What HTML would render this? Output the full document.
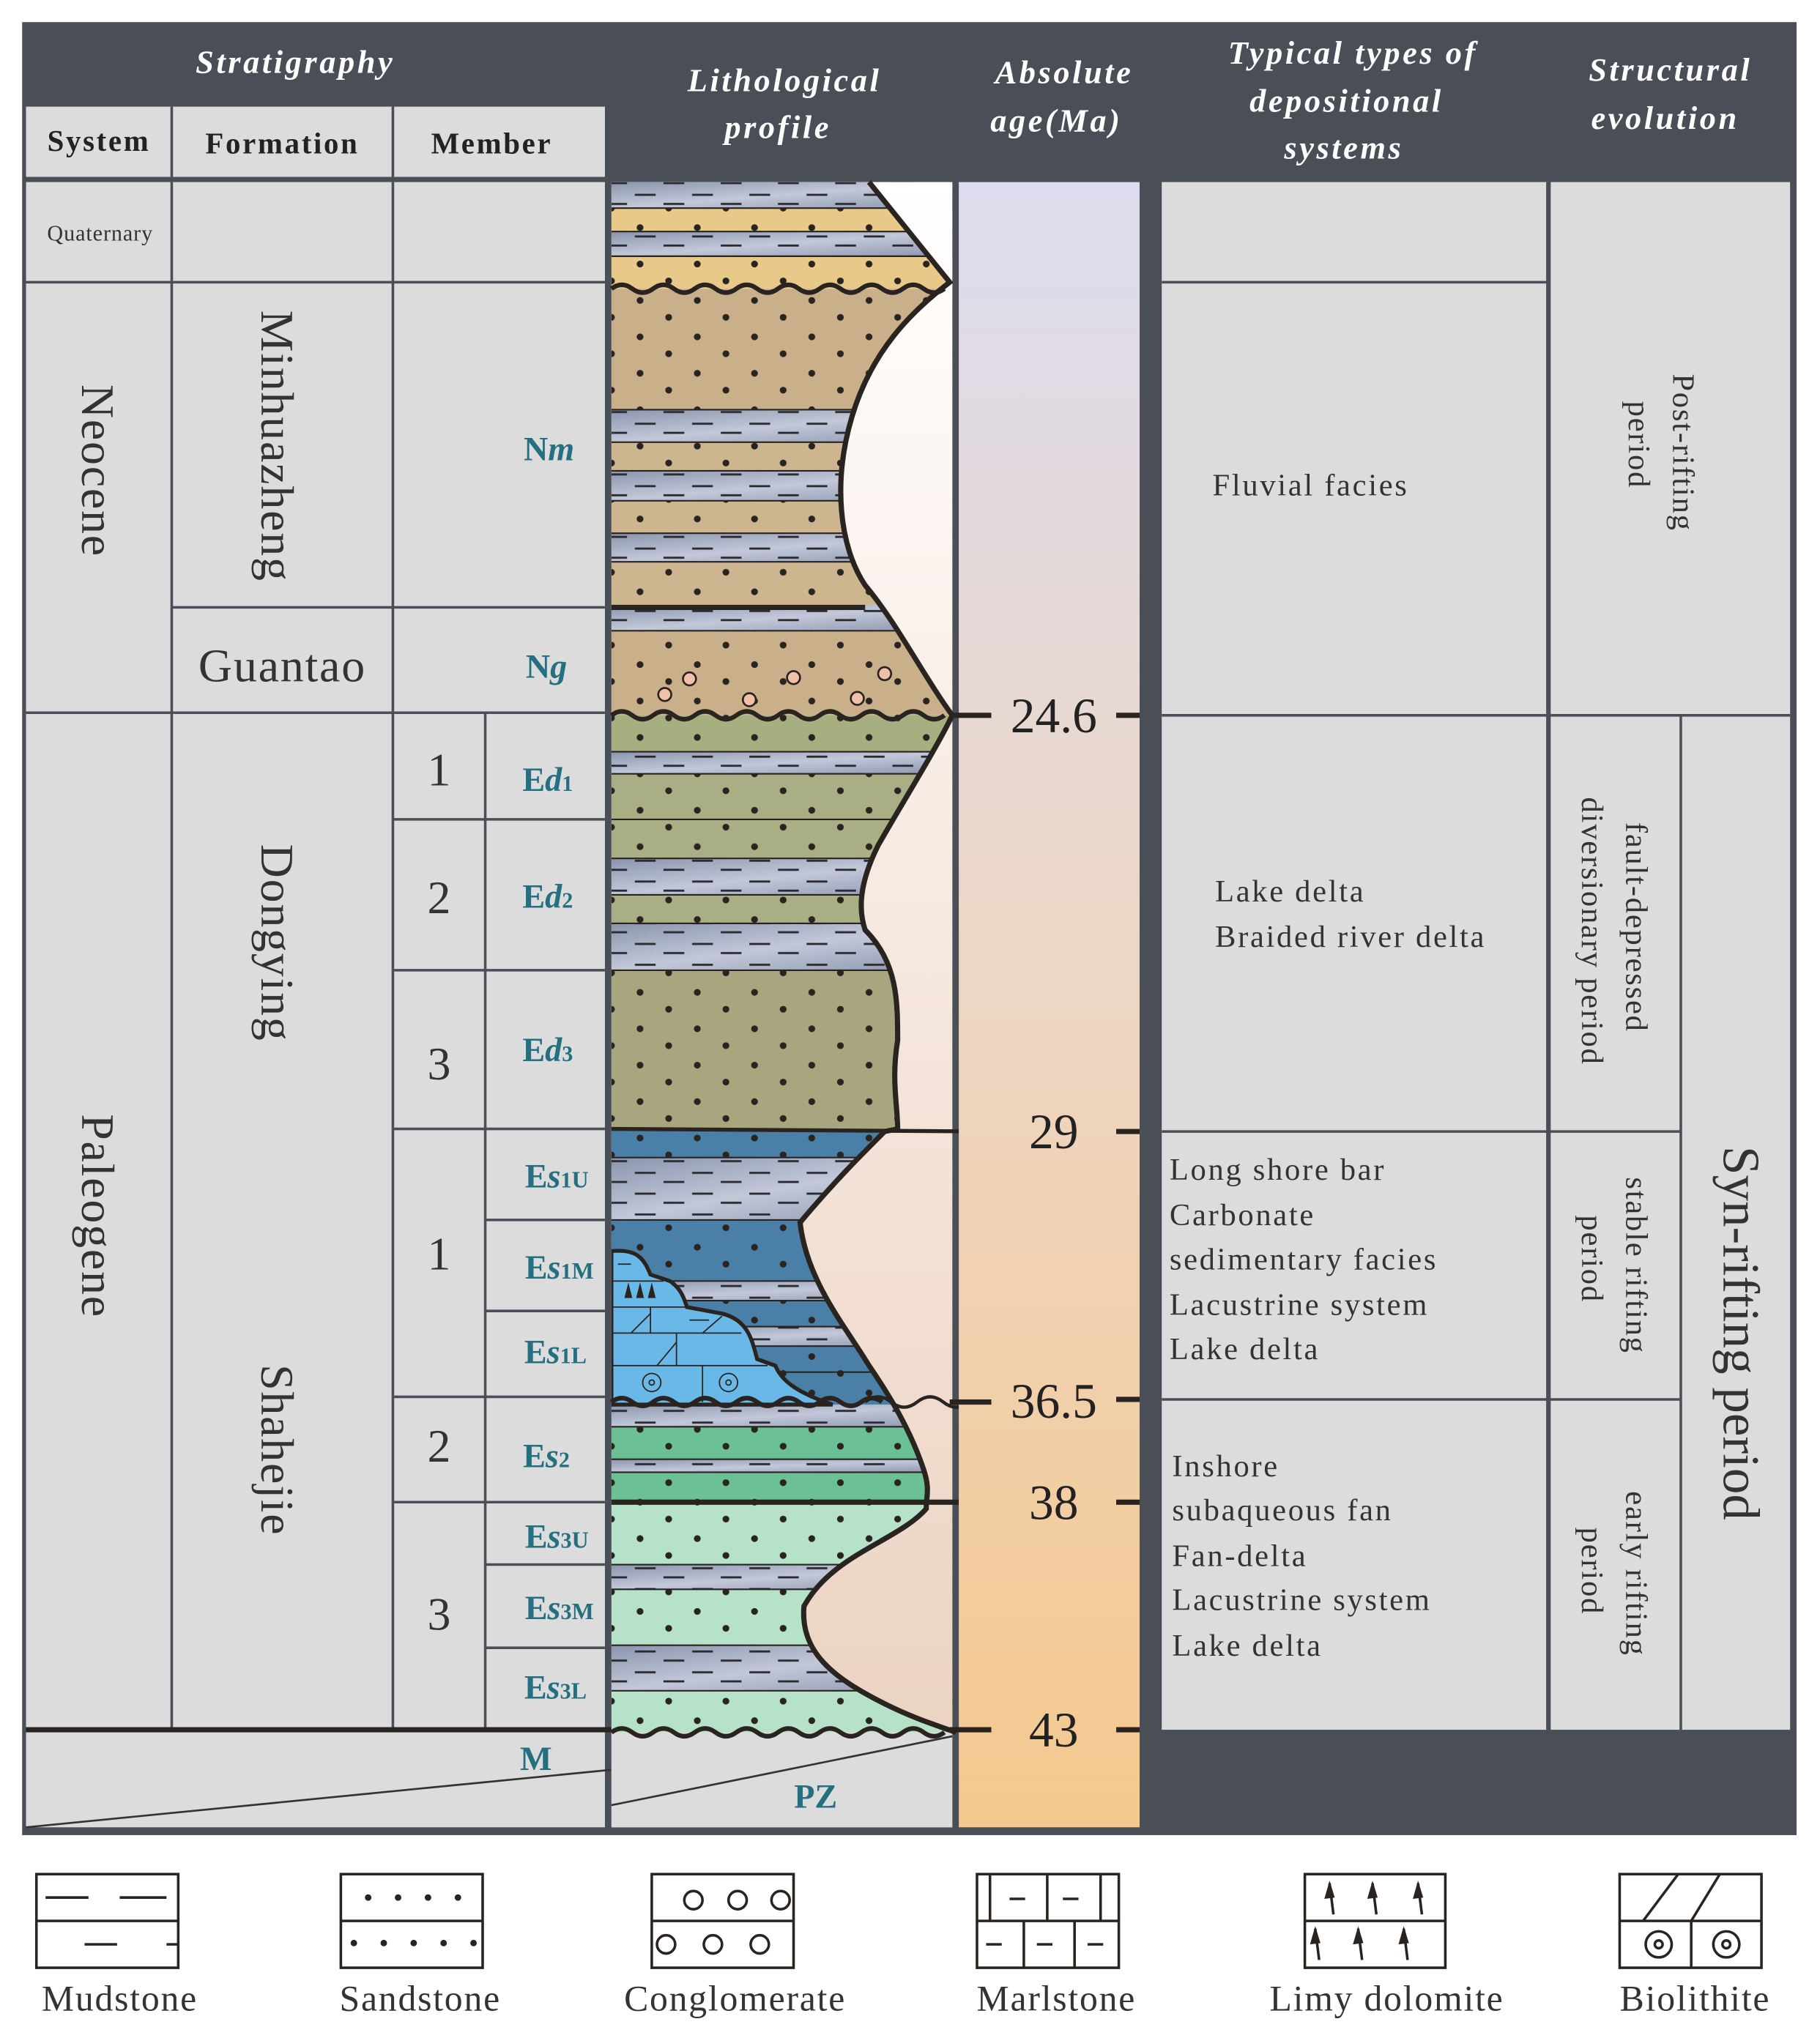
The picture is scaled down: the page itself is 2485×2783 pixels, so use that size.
<!DOCTYPE html>
<html><head><meta charset="utf-8"><style>
html,body{margin:0;padding:0;background:#fff;}
svg{display:block;}
text{font-family:"Liberation Serif",serif;}
.h{fill:#fff;font-style:italic;font-weight:bold;font-size:25px;letter-spacing:2px;text-anchor:middle;}
.sh{fill:#222;font-weight:bold;font-size:23px;letter-spacing:1.5px;text-anchor:middle;}
.big{fill:#333;font-size:36px;text-anchor:middle;letter-spacing:1px;}
.mem{fill:#246f80;font-weight:bold;font-size:26px;text-anchor:middle;}
.dep{fill:#333;font-size:24px;letter-spacing:1.5px;}
.st{fill:#333;font-size:24px;letter-spacing:1px;text-anchor:middle;}
.age{fill:#222;font-size:38px;text-anchor:middle;}
.leg{fill:#333;font-size:28px;text-anchor:middle;letter-spacing:1px;}
</style></head><body>
<svg width="2485" height="2783" viewBox="0 0 1399 1567" preserveAspectRatio="none" xmlns="http://www.w3.org/2000/svg">
<defs>
<pattern id="dots" patternUnits="userSpaceOnUse" width="44" height="28"><circle cx="8" cy="7" r="2.6" fill="#2a2420"/><circle cx="30" cy="20" r="2.6" fill="#2a2420"/></pattern>
<pattern id="dash" patternUnits="userSpaceOnUse" width="44" height="16"><rect x="4" y="5" width="16" height="1.6" fill="#2a2a30"/><rect x="26" y="12" width="16" height="1.6" fill="#2a2a30"/></pattern>
<linearGradient id="mud" x1="0" y1="0" x2="1" y2="1"><stop offset="0" stop-color="#8a95ae"/><stop offset="0.5" stop-color="#c2c8d8"/><stop offset="1" stop-color="#8a95ae"/></linearGradient>
<linearGradient id="ageg" x1="0" y1="0" x2="0" y2="1"><stop offset="0" stop-color="#dcdcee"/><stop offset="0.45" stop-color="#ecd7c8"/><stop offset="1" stop-color="#f5c88e"/></linearGradient>
<linearGradient id="bg" x1="0" y1="0" x2="0" y2="1"><stop offset="0" stop-color="#ffffff"/><stop offset="0.4" stop-color="#f8ece4"/><stop offset="1" stop-color="#ecd3c2"/></linearGradient>
<clipPath id="pc"><rect x="470" y="140" width="262" height="1192"/></clipPath>
</defs>
<rect width="1399" height="1567" fill="#fff"/>
<rect x="17" y="17" width="1364" height="1394" fill="#4a4f57"/>
<rect x="20" y="82" width="445" height="54" fill="#dcdcdc"/>
<line x1="132" y1="82" x2="132" y2="136" stroke="#4a4f57" stroke-width="2"/>
<line x1="302" y1="82" x2="302" y2="136" stroke="#4a4f57" stroke-width="2"/>
<text class="h" x="227" y="56">Stratigraphy</text>
<text class="sh" x="76" y="116">System</text>
<text class="sh" x="217" y="118">Formation</text>
<text class="sh" x="378" y="118">Member</text>
<text class="h" x="603" y="70">Lithological</text><text class="h" x="598" y="106">profile</text>
<text class="h" x="818" y="64">Absolute</text><text class="h" x="812" y="101">age(Ma)</text>
<text class="h" x="1040" y="49">Typical types of</text><text class="h" x="1035" y="86">depositional</text><text class="h" x="1033" y="122">systems</text>
<text class="h" x="1284" y="62">Structural</text><text class="h" x="1280" y="99">evolution</text>
<rect x="20" y="140" width="445" height="1265" fill="#dcdcdc"/>
<g stroke="#4a4f57" stroke-width="2" fill="none">
<line x1="132" y1="140" x2="132" y2="1330"/>
<line x1="302" y1="140" x2="302" y2="1330"/>
<line x1="373" y1="548" x2="373" y2="1330"/>
<line x1="20" y1="217" x2="465" y2="217"/>
<line x1="20" y1="548" x2="465" y2="548"/>
<line x1="132" y1="467" x2="465" y2="467"/>
<line x1="302" y1="630" x2="465" y2="630"/>
<line x1="302" y1="746" x2="465" y2="746"/>
<line x1="302" y1="868" x2="465" y2="868"/>
<line x1="373" y1="938" x2="465" y2="938"/>
<line x1="373" y1="1008" x2="465" y2="1008"/>
<line x1="302" y1="1074" x2="465" y2="1074"/>
<line x1="302" y1="1155" x2="465" y2="1155"/>
<line x1="373" y1="1203" x2="465" y2="1203"/>
<line x1="373" y1="1267" x2="465" y2="1267"/>
<line x1="20" y1="1405" x2="732" y2="1335" stroke="#333" stroke-width="1.5"/>
</g>
<line x1="20" y1="1330" x2="470" y2="1330" stroke="#2a2420" stroke-width="4"/>
<text x="77" y="185" fill="#333" font-size="17" text-anchor="middle" letter-spacing="0.5">Quaternary</text>
<text class="big" transform="translate(63,362) rotate(90)">Neocene</text>
<text class="big" transform="translate(63,935) rotate(90)">Paleogene</text>
<text class="big" transform="translate(201,343) rotate(90)">Minhuazheng</text>
<text class="big" x="217" y="524">Guantao</text>
<text class="big" transform="translate(201,725) rotate(90)">Dongying</text>
<text class="big" transform="translate(201,1115) rotate(90)">Shahejie</text>
<text class="big" x="338" y="604">1</text><text class="big" x="338" y="702">2</text><text class="big" x="338" y="830">3</text>
<text class="big" x="338" y="976">1</text><text class="big" x="338" y="1124">2</text><text class="big" x="338" y="1253">3</text>
<text class="mem" x="422" y="354">N<tspan font-style="italic">m</tspan></text>
<text class="mem" x="420" y="521">N<tspan font-style="italic">g</tspan></text>
<text class="mem" x="421" y="608">E<tspan font-style="italic">d</tspan><tspan font-size="17">1</tspan></text>
<text class="mem" x="421" y="698">E<tspan font-style="italic">d</tspan><tspan font-size="17">2</tspan></text>
<text class="mem" x="421" y="816">E<tspan font-style="italic">d</tspan><tspan font-size="17">3</tspan></text>
<text class="mem" x="428" y="913">E<tspan font-style="italic">s</tspan><tspan font-size="17">1</tspan><tspan font-size="18">U</tspan></text>
<text class="mem" x="430" y="983">E<tspan font-style="italic">s</tspan><tspan font-size="17">1</tspan><tspan font-size="18">M</tspan></text>
<text class="mem" x="427" y="1048">E<tspan font-style="italic">s</tspan><tspan font-size="17">1</tspan><tspan font-size="18">L</tspan></text>
<text class="mem" x="420" y="1128">E<tspan font-style="italic">s</tspan><tspan font-size="17">2</tspan></text>
<text class="mem" x="428" y="1190">E<tspan font-style="italic">s</tspan><tspan font-size="17">3</tspan><tspan font-size="18">U</tspan></text>
<text class="mem" x="430" y="1245">E<tspan font-style="italic">s</tspan><tspan font-size="17">3</tspan><tspan font-size="18">M</tspan></text>
<text class="mem" x="427" y="1306">E<tspan font-style="italic">s</tspan><tspan font-size="17">3</tspan><tspan font-size="18">L</tspan></text>
<text class="mem" x="412" y="1361">M</text>
<rect x="470" y="140" width="262" height="1265" fill="url(#bg)"/>
<rect x="470" y="1332" width="262" height="73" fill="#dcdcdc"/>
<line x1="470" y1="1388" x2="732" y2="1335" stroke="#333" stroke-width="1.5"/>
<text class="mem" x="627" y="1390">PZ</text>
<g clip-path="url(#pc)">
<g fill="url(#mud)">
<rect x="470" y="140" width="262" height="20"/><rect x="470" y="178" width="262" height="19"/>
<rect x="470" y="315" width="262" height="25"/><rect x="470" y="362" width="262" height="23"/><rect x="470" y="410" width="262" height="22"/><rect x="470" y="465" width="262" height="20"/>
<rect x="470" y="578" width="262" height="17"/><rect x="470" y="660" width="262" height="28"/><rect x="470" y="710" width="262" height="36"/>
<rect x="470" y="890" width="262" height="48"/><rect x="470" y="985" width="262" height="15"/><rect x="470" y="1020" width="262" height="15"/>
<rect x="470" y="1080" width="262" height="17"/><rect x="470" y="1122" width="262" height="10"/><rect x="470" y="1203" width="262" height="19"/><rect x="470" y="1265" width="262" height="35"/>
</g>
<g fill="url(#dash)">
<rect x="470" y="140" width="262" height="20"/><rect x="470" y="178" width="262" height="19"/>
<rect x="470" y="315" width="262" height="25"/><rect x="470" y="362" width="262" height="23"/><rect x="470" y="410" width="262" height="22"/><rect x="470" y="465" width="262" height="20"/>
<rect x="470" y="578" width="262" height="17"/><rect x="470" y="660" width="262" height="28"/><rect x="470" y="710" width="262" height="36"/>
<rect x="470" y="890" width="262" height="48"/><rect x="470" y="985" width="262" height="15"/><rect x="470" y="1020" width="262" height="15"/>
<rect x="470" y="1080" width="262" height="17"/><rect x="470" y="1122" width="262" height="10"/><rect x="470" y="1203" width="262" height="19"/><rect x="470" y="1265" width="262" height="35"/>
</g>
<rect x="470" y="160" width="262" height="18" fill="#e8c98a"/><rect x="470" y="197" width="262" height="25" fill="#e8c98a"/>
<rect x="470" y="222" width="262" height="93" fill="#c9b08a"/><rect x="470" y="340" width="262" height="22" fill="#cdb590"/><rect x="470" y="385" width="262" height="25" fill="#cdb590"/><rect x="470" y="432" width="262" height="33" fill="#cdb590"/>
<rect x="470" y="485" width="262" height="65" fill="#c9b08a"/>
<rect x="470" y="550" width="262" height="28" fill="#a7af80"/><rect x="470" y="595" width="262" height="65" fill="#aaae84"/><rect x="470" y="688" width="262" height="22" fill="#aaae84"/>
<rect x="470" y="746" width="262" height="122" fill="#a8a67e"/>
<rect x="470" y="868" width="262" height="22" fill="#4a80a8"/><rect x="470" y="938" width="262" height="47" fill="#4a80a8"/><rect x="470" y="1000" width="262" height="20" fill="#4a80a8"/><rect x="470" y="1035" width="262" height="45" fill="#4a80a8"/>
<rect x="470" y="1097" width="262" height="25" fill="#6cc096"/><rect x="470" y="1132" width="262" height="23" fill="#6cc096"/>
<rect x="470" y="1155" width="262" height="48" fill="#b7e2ca"/><rect x="470" y="1222" width="262" height="43" fill="#b7e2ca"/><rect x="470" y="1300" width="262" height="32" fill="#b7e2ca"/>
<g fill="url(#dots)">
<rect x="470" y="160" width="262" height="18"/><rect x="470" y="197" width="262" height="25"/><rect x="470" y="222" width="262" height="93"/><rect x="470" y="340" width="262" height="22"/><rect x="470" y="385" width="262" height="25"/><rect x="470" y="432" width="262" height="33"/><rect x="470" y="485" width="262" height="65"/>
<rect x="470" y="550" width="262" height="28"/><rect x="470" y="595" width="262" height="65"/><rect x="470" y="688" width="262" height="22"/><rect x="470" y="746" width="262" height="122"/>
<rect x="470" y="868" width="262" height="22"/><rect x="470" y="938" width="262" height="47"/><rect x="470" y="1000" width="262" height="20"/><rect x="470" y="1035" width="262" height="45"/>
<rect x="470" y="1097" width="262" height="25"/><rect x="470" y="1132" width="262" height="23"/><rect x="470" y="1155" width="262" height="48"/><rect x="470" y="1222" width="262" height="43"/><rect x="470" y="1300" width="262" height="32"/>
</g>
<g stroke="#2a2420" stroke-width="1.2">
<line x1="470" y1="160" x2="732" y2="160"/><line x1="470" y1="178" x2="732" y2="178"/><line x1="470" y1="197" x2="732" y2="197"/><line x1="470" y1="315" x2="732" y2="315"/><line x1="470" y1="340" x2="732" y2="340"/><line x1="470" y1="362" x2="732" y2="362"/><line x1="470" y1="385" x2="732" y2="385"/><line x1="470" y1="410" x2="732" y2="410"/><line x1="470" y1="432" x2="732" y2="432"/><line x1="470" y1="485" x2="732" y2="485"/>
<line x1="470" y1="578" x2="732" y2="578"/><line x1="470" y1="595" x2="732" y2="595"/><line x1="470" y1="630" x2="732" y2="630"/><line x1="470" y1="660" x2="732" y2="660"/><line x1="470" y1="688" x2="732" y2="688"/><line x1="470" y1="710" x2="732" y2="710"/><line x1="470" y1="746" x2="732" y2="746"/>
<line x1="470" y1="890" x2="732" y2="890"/><line x1="470" y1="938" x2="732" y2="938"/><line x1="470" y1="985" x2="732" y2="985"/><line x1="470" y1="1000" x2="732" y2="1000"/><line x1="470" y1="1020" x2="732" y2="1020"/><line x1="470" y1="1035" x2="732" y2="1035"/><line x1="470" y1="1055" x2="732" y2="1055"/>
<line x1="470" y1="1097" x2="732" y2="1097"/><line x1="470" y1="1122" x2="732" y2="1122"/><line x1="470" y1="1132" x2="732" y2="1132"/><line x1="470" y1="1203" x2="732" y2="1203"/><line x1="470" y1="1222" x2="732" y2="1222"/><line x1="470" y1="1265" x2="732" y2="1265"/><line x1="470" y1="1300" x2="732" y2="1300"/>
</g>
<g fill="#f0c0a8" stroke="#2a2420" stroke-width="1.5">
<circle cx="511" cy="534" r="5"/><circle cx="530" cy="522" r="5"/><circle cx="576" cy="538" r="5"/><circle cx="610" cy="521" r="5"/><circle cx="659" cy="537" r="5"/><circle cx="680" cy="518" r="5"/>
</g>
<path d="M470,962 C490,960 495,968 500,980 L515,985 C522,990 525,995 528,1005 L555,1010 C575,1015 578,1030 582,1045 L596,1050 C600,1060 610,1070 640,1080 L470,1080 Z" fill="#6ab8e8" stroke="#2a2420" stroke-width="3"/>
<g stroke="#2a2420" stroke-width="1" fill="none">
<line x1="470" y1="985" x2="510" y2="985"/><line x1="470" y1="1005" x2="528" y2="1005"/><line x1="470" y1="1025" x2="570" y2="1025"/><line x1="470" y1="1050" x2="590" y2="1050"/>
<line x1="500" y1="1005" x2="500" y2="1025"/><line x1="520" y1="1025" x2="520" y2="1050"/><line x1="540" y1="1050" x2="540" y2="1078"/>
<line x1="485" y1="1025" x2="500" y2="1010"/><line x1="505" y1="1050" x2="520" y2="1032"/><line x1="540" y1="1025" x2="555" y2="1012"/>
<circle cx="501" cy="1063" r="7"/><circle cx="501" cy="1063" r="2"/><circle cx="560" cy="1063" r="7"/><circle cx="560" cy="1063" r="2"/>
<line x1="475" y1="972" x2="485" y2="972"/><line x1="530" y1="1015" x2="545" y2="1015"/>
</g>
<g fill="#2a2420"><path d="M480,998 l3,-12 l3,12z"/><path d="M489,998 l3,-12 l3,12z"/><path d="M498,998 l3,-12 l3,12z"/></g>
<path d="M668,140 L730,217 C700,240 670,270 655,320 C640,370 645,420 665,450 C690,480 710,520 732,550 C720,575 695,615 675,650 C660,680 660,700 665,715 C690,740 690,770 690,800 C685,830 690,850 690,868 L680,870 C660,890 640,910 615,940 C620,985 650,1020 668,1050 C685,1075 700,1100 710,1130 C715,1145 712,1150 712,1160 C690,1185 640,1195 618,1235 C615,1270 640,1290 680,1310 C700,1320 715,1325 735,1332 L735,140 Z" fill="url(#bg)"/>
</g>
<g fill="none" stroke="#2a2420" stroke-width="3.5">
<path d="M470,222 q8,-6 16,0 t16,0 t16,0 t16,0 t16,0 t16,0 t16,0 t16,0 t16,0 t16,0 t16,0 t16,0 t16,0 t16,0 t16,0 t16,0"/>
<path d="M470,550 q8,-6 16,0 t16,0 t16,0 t16,0 t16,0 t16,0 t16,0 t16,0 t16,0 t16,0 t16,0 t16,0 t16,0 t16,0 t16,0 t16,0"/>
<path d="M470,1078 q8,-6 16,0 t16,0 t16,0 t16,0 t16,0 t16,0 t16,0 t16,0 t16,0 t16,0 t16,0 t16,0 t16,0"/>
<path d="M470,1332 q8,-6 16,0 t16,0 t16,0 t16,0 t16,0 t16,0 t16,0 t16,0 t16,0 t16,0 t16,0 t16,0 t16,0 t16,0 t16,0 t16,0"/>
<path d="M665,1078 q10,-8 20,0 t20,0 t20,0 t20,0" stroke-width="2.5"/>
</g>
<line x1="470" y1="467" x2="665" y2="467" stroke="#2a2420" stroke-width="4"/>
<line x1="470" y1="868" x2="760" y2="870" stroke="#2a2420" stroke-width="3"/>
<line x1="470" y1="1155" x2="760" y2="1155" stroke="#2a2420" stroke-width="4"/>
<path d="M668,140 L730,217 C700,240 670,270 655,320 C640,370 645,420 665,450 C690,480 710,520 732,550 C720,575 695,615 675,650 C660,680 660,700 665,715 C690,740 690,770 690,800 C685,830 690,850 690,868 L680,870 C660,890 640,910 615,940 C620,985 650,1020 668,1050 C685,1075 700,1100 710,1130 C715,1145 712,1150 712,1160 C690,1185 640,1195 618,1235 C615,1270 640,1290 680,1310 C700,1320 715,1325 735,1332" fill="none" stroke="#2a2420" stroke-width="4"/>
<rect x="737" y="140" width="139" height="1265" fill="url(#ageg)"/>
<g stroke="#2a2420" stroke-width="4">
<line x1="732" y1="550" x2="762" y2="550"/><line x1="730" y1="1078" x2="762" y2="1078"/><line x1="730" y1="1330" x2="762" y2="1330"/>
<line x1="858" y1="550" x2="876" y2="550"/><line x1="858" y1="870" x2="876" y2="870"/><line x1="858" y1="1076" x2="876" y2="1076"/><line x1="858" y1="1155" x2="876" y2="1155"/><line x1="858" y1="1330" x2="876" y2="1330"/>
</g>
<text class="age" x="810" y="563">24.6</text><text class="age" x="810" y="883">29</text><text class="age" x="810" y="1090">36.5</text><text class="age" x="810" y="1168">38</text><text class="age" x="810" y="1343">43</text>
<rect x="893" y="140" width="297" height="1190" fill="#dcdcdc"/>
<rect x="1192" y="140" width="184" height="1190" fill="#dcdcdc"/>
<line x1="1190" y1="140" x2="1190" y2="1330" stroke="#4a4f57" stroke-width="3"/>
<line x1="1292" y1="550" x2="1292" y2="1330" stroke="#4a4f57" stroke-width="2"/>
<g stroke="#4a4f57" stroke-width="2">
<line x1="893" y1="217" x2="1190" y2="217"/><line x1="893" y1="550" x2="1376" y2="550"/><line x1="893" y1="870" x2="1292" y2="870"/><line x1="893" y1="1076" x2="1292" y2="1076"/>
</g>
<text class="dep" x="932" y="381">Fluvial facies</text>
<text class="dep" x="934" y="693">Lake delta</text><text class="dep" x="934" y="728">Braided river delta</text>
<text class="dep" x="899" y="907">Long shore bar</text><text class="dep" x="899" y="942">Carbonate</text><text class="dep" x="899" y="976">sedimentary facies</text><text class="dep" x="899" y="1011">Lacustrine system</text><text class="dep" x="899" y="1045">Lake delta</text>
<text class="dep" x="901" y="1135">Inshore</text><text class="dep" x="901" y="1169">subaqueous fan</text><text class="dep" x="901" y="1204">Fan-delta</text><text class="dep" x="901" y="1238">Lacustrine system</text><text class="dep" x="901" y="1273">Lake delta</text>
<text class="st" transform="translate(1286,348) rotate(90)">Post-rifting</text>
<text class="st" transform="translate(1252,342) rotate(90)">period</text>
<text class="st" transform="translate(1250,713) rotate(90)">fault-depressed</text>
<text class="st" transform="translate(1216,716) rotate(90)">diversionary period</text>
<text class="st" transform="translate(1250,973) rotate(90)">stable rifting</text>
<text class="st" transform="translate(1216,968) rotate(90)">period</text>
<text class="st" transform="translate(1250,1210) rotate(90)">early rifting</text>
<text class="st" transform="translate(1216,1208) rotate(90)">period</text>
<text fill="#333" font-size="40" text-anchor="middle" transform="translate(1325,1025) rotate(90)">Syn-rifting period</text>
<g fill="none" stroke="#2a2420" stroke-width="2">
<rect x="28" y="1441" width="109" height="72"/><line x1="28" y1="1477" x2="137" y2="1477"/><line x1="35" y1="1459" x2="68" y2="1459"/><line x1="92" y1="1459" x2="128" y2="1459"/><line x1="65" y1="1495" x2="90" y2="1495"/><line x1="128" y1="1495" x2="137" y2="1495"/>
<rect x="262" y="1441" width="109" height="72"/><line x1="262" y1="1477" x2="371" y2="1477"/>
<rect x="501" y="1441" width="109" height="72"/><line x1="501" y1="1477" x2="610" y2="1477"/>
<circle cx="533" cy="1461" r="7"/><circle cx="567" cy="1461" r="7"/><circle cx="600" cy="1461" r="7"/><circle cx="512" cy="1495" r="7"/><circle cx="548" cy="1495" r="7"/><circle cx="584" cy="1495" r="7"/>
<rect x="751" y="1441" width="109" height="72"/><line x1="751" y1="1477" x2="860" y2="1477"/>
<line x1="761" y1="1441" x2="761" y2="1477"/><line x1="805" y1="1441" x2="805" y2="1477"/><line x1="846" y1="1441" x2="846" y2="1477"/>
<line x1="787" y1="1477" x2="787" y2="1513"/><line x1="826" y1="1477" x2="826" y2="1513"/>
<line x1="776" y1="1460" x2="788" y2="1460"/><line x1="817" y1="1460" x2="829" y2="1460"/><line x1="758" y1="1495" x2="770" y2="1495"/><line x1="797" y1="1495" x2="809" y2="1495"/><line x1="836" y1="1495" x2="848" y2="1495"/>
<rect x="1003" y="1441" width="108" height="72"/><line x1="1003" y1="1477" x2="1111" y2="1477"/>
<rect x="1245" y="1441" width="109" height="72"/><line x1="1245" y1="1477" x2="1354" y2="1477"/>
<line x1="1263" y1="1477" x2="1290" y2="1441"/><line x1="1300" y1="1477" x2="1322" y2="1441"/><line x1="1300" y1="1477" x2="1300" y2="1513"/>
<circle cx="1275" cy="1495" r="10"/><circle cx="1275" cy="1495" r="3"/><circle cx="1327" cy="1495" r="10"/><circle cx="1327" cy="1495" r="3"/>
<g stroke-width="2">
<line x1="1022" y1="1448" x2="1025" y2="1472"/><line x1="1055" y1="1448" x2="1058" y2="1472"/><line x1="1090" y1="1448" x2="1093" y2="1472"/>
<line x1="1011" y1="1483" x2="1014" y2="1507"/><line x1="1044" y1="1483" x2="1047" y2="1507"/><line x1="1079" y1="1483" x2="1082" y2="1507"/>
</g>
</g>
<g fill="#2a2420">
<circle cx="283" cy="1459" r="2.5"/><circle cx="306" cy="1459" r="2.5"/><circle cx="329" cy="1459" r="2.5"/><circle cx="352" cy="1459" r="2.5"/>
<circle cx="272" cy="1494" r="2.5"/><circle cx="295" cy="1494" r="2.5"/><circle cx="318" cy="1494" r="2.5"/><circle cx="341" cy="1494" r="2.5"/><circle cx="364" cy="1494" r="2.5"/>
<path d="M1018,1460 l4,-14 l4,13z M1051,1460 l4,-14 l4,13z M1086,1460 l4,-14 l4,13z"/>
<path d="M1007,1495 l4,-14 l4,13z M1040,1495 l4,-14 l4,13z M1075,1495 l4,-14 l4,13z"/>
</g>
<text class="leg" x="92" y="1546">Mudstone</text>
<text class="leg" x="323" y="1546">Sandstone</text>
<text class="leg" x="565" y="1546">Conglomerate</text>
<text class="leg" x="812" y="1546">Marlstone</text>
<text class="leg" x="1066" y="1546">Limy dolomite</text>
<text class="leg" x="1303" y="1546">Biolithite</text>
</svg>
</body></html>
